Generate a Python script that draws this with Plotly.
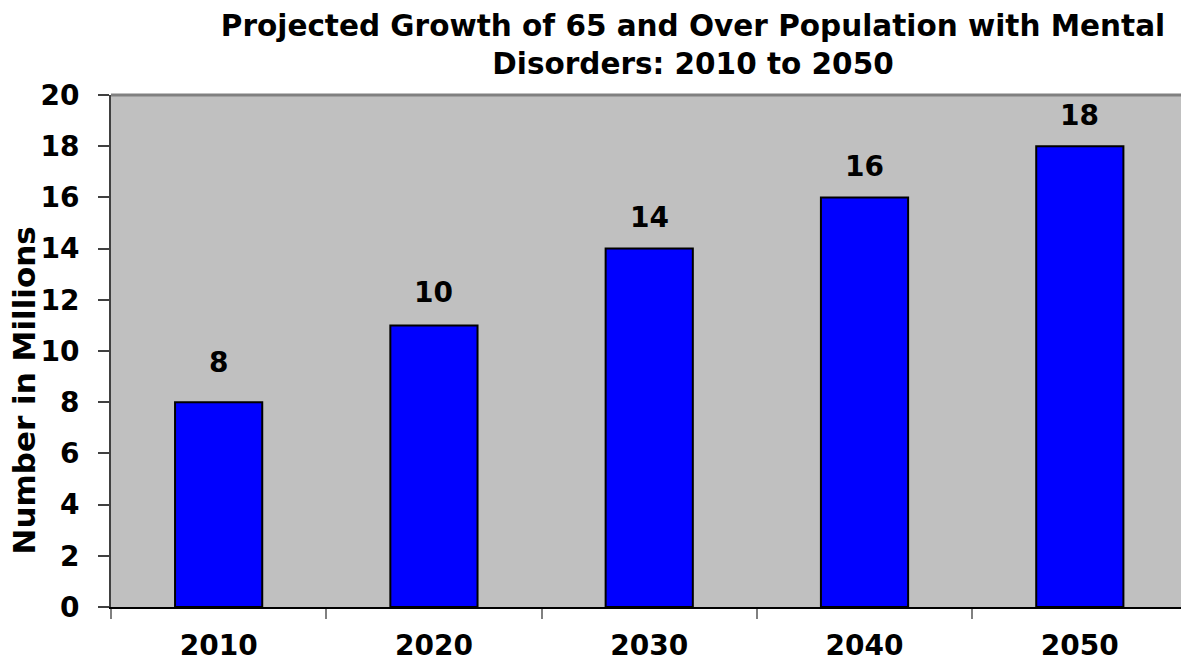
import plotly.graph_objects as go

years = ["2010", "2020", "2030", "2040", "2050"]
values = [8, 11, 14, 16, 18]
labels = ["8", "10", "14", "16", "18"]
label_shift = [40, 33, 31, 31, 31]

FONT = "DejaVu Sans"
W, H = 1181, 666
L, T, B = 111, 95, 59
PH = H - T - B

fig = go.Figure()
fig.add_trace(go.Bar(
    x=years, y=values, width=0.405,
    marker=dict(color="#0000FF", line=dict(color="#000000", width=2)),
    hoverinfo="skip",
))

for i, (v, lb, sh) in enumerate(zip(values, labels, label_shift)):
    fig.add_annotation(x=i, y=v, text="<b>%s</b>" % lb, showarrow=False,
                       yanchor="middle", yshift=sh,
                       font=dict(family=FONT, size=28, color="#000000"))

fig.add_annotation(xref="paper", yref="paper", x=(23.5 - L) / (W - L), y=(H - B - 391) / PH,
                   text="<b>Number in Millions</b>", textangle=-90, showarrow=False,
                   xanchor="center", yanchor="middle",
                   font=dict(family=FONT, size=31, color="#000000"))

fig.update_layout(
    width=W, height=H,
    margin=dict(l=L, r=0, t=T, b=B),
    paper_bgcolor="white", plot_bgcolor="#C0C0C0",
    showlegend=False,
    title=dict(text="<b>Projected Growth of 65 and Over Population with Mental<br>Disorders: 2010 to 2050</b>",
               x=(693 / W), xanchor="center", y=1 - 36 / H, yanchor="middle",
               font=dict(family=FONT, size=29.5, color="#000000")),
    font=dict(family=FONT, color="#000000"),
)
fig.update_xaxes(
    type="category", range=[-0.5, 4.47],
    showline=True, linecolor="#000000", linewidth=2,
    ticks="outside", tickson="boundaries", ticklen=10, tickcolor="#808080", tickwidth=2,
    tickfont=dict(family=FONT, size=28, color="#000000"),
    tickprefix="<b>", ticksuffix="</b>",
    ticklabelstandoff=12,
    showgrid=False, zeroline=False, fixedrange=True,
)
fig.update_yaxes(
    range=[0, 20], dtick=2, tick0=0,
    showline=True, linecolor="#404040", linewidth=2, mirror=False,
    ticks="outside", ticklen=11, tickcolor="#404040", tickwidth=2,
    tickfont=dict(family=FONT, size=28, color="#000000"),
    tickprefix="<b>", ticksuffix="</b>",
    ticklabelstandoff=13,
    showgrid=False, zeroline=False, fixedrange=True,
)
# top border of plot area
fig.add_shape(type="line", xref="paper", yref="paper", x0=0, x1=1, y0=1, y1=1,
              line=dict(color="#808080", width=3))

fig.write_html("out.html",
               config={"displayModeBar": False},
               post_script="document.body.style.margin='0';document.body.style.overflow='hidden';")
